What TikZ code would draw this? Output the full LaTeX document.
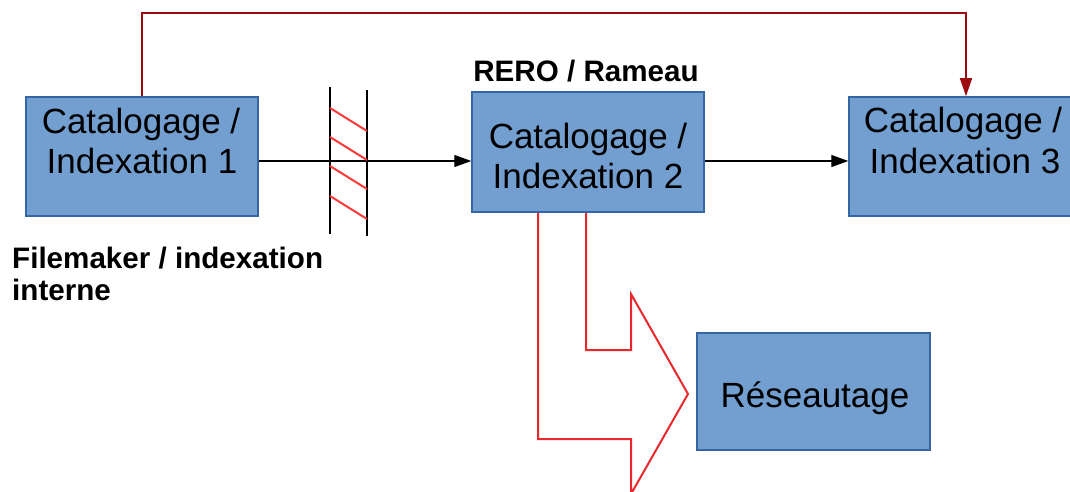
\documentclass[tikz,border=0pt]{standalone}
\usepackage{fontspec}
\setmainfont{Liberation Sans}
\usetikzlibrary{arrows.meta}

\definecolor{boxfill}{HTML}{729FCF}
\definecolor{boxline}{HTML}{3465A4}
\definecolor{barred}{HTML}{FF3838}
\definecolor{flowred}{HTML}{E8282C}
\definecolor{darkred}{HTML}{9E0B0F}

\tikzset{
  box/.style={draw=boxline, fill=boxfill, line width=1.5pt, inner sep=0pt},
  boxtext/.style={anchor=base, inner sep=0pt, font=\fontsize{35}{40}\selectfont},
  tag/.style={inner sep=0pt, font=\fontsize{29.6}{32}\selectfont\bfseries},
  flow/.style={line width=1.3pt, -{Triangle[length=17pt,width=12pt]}},
  hatch/.style={barred, line width=2pt},
  fence/.style={black, line width=1.5pt},
}

\begin{document}
\begin{tikzpicture}[x=1pt, y=-1pt]
  \useasboundingbox (0,0) rectangle (1070,492);
  \clip (0,0) rectangle (1070,492);

  % processing boxes
  \node[box, minimum width=232pt, minimum height=119pt] (b1) at (142,156.5) {};
  \node[box, minimum width=232pt, minimum height=120pt] (b2) at (588,152) {};
  \node[box, minimum width=232pt, minimum height=119pt] (b3) at (965,156.5) {};
  \node[box, minimum width=233pt, minimum height=117pt] (b4) at (813.5,391.5) {};

  \node[boxtext] (t1a) at (141,133) {Catalogage /};
  \node[boxtext] (t1b) at (142,173) {Indexation 1};
  \node[boxtext] (t2a) at (588,148) {Catalogage /};
  \node[boxtext] (t2b) at (588,188) {Indexation 2};
  \node[boxtext] (t3a) at (963,132) {Catalogage /};
  \node[boxtext] (t3b) at (965,173) {Indexation 3};
  \node[boxtext] (t4) at (815,407) {Réseautage};

  % captions
  \node[tag, anchor=base] (rero) at (586,82) {RERO / Rameau};
  \node[tag, anchor=base west] (fm1) at (12,268) {Filemaker / indexation};
  \node[tag, anchor=base west] (fm2) at (12,300) {interne};

  % main flow
  \draw[flow] (b1.east |- 0,161) -- (b2.west |- 0,161);
  \draw[flow] (b2.east |- 0,161) -- (b3.west |- 0,161);

  % barrier across the first link
  \coordinate (fL1) at (330,87);  \coordinate (fL2) at (330,234);
  \coordinate (fR1) at (367,90);  \coordinate (fR2) at (367,236);
  \draw[fence] (fL1) -- (fL2);
  \draw[fence] (fR1) -- (fR2);
  \foreach \y in {108,137,166,196}
    \draw[hatch] (330,\y) -- (367,\y+23);

  % bypass link from box 1 to box 3
  \coordinate (up1) at (142,13);
  \coordinate (up3) at (966,13);
  \draw[darkred, line width=1.5pt, -{Triangle[length=18pt,width=12pt]}]
    (b1.north -| up1) -- (up1) -- (up3) -- (b3.north -| up3);

  % outlined bent arrow from box 2 to networking
  \draw[flowred, line width=2pt, line join=miter]
    (b2.south -| 538,0) -- (538,439) -- (631,439) -- (631,494)
    -- (688,394) -- (631,294) -- (631,350) -- (586,350) -- (b2.south -| 586,0);
\end{tikzpicture}
\end{document}
